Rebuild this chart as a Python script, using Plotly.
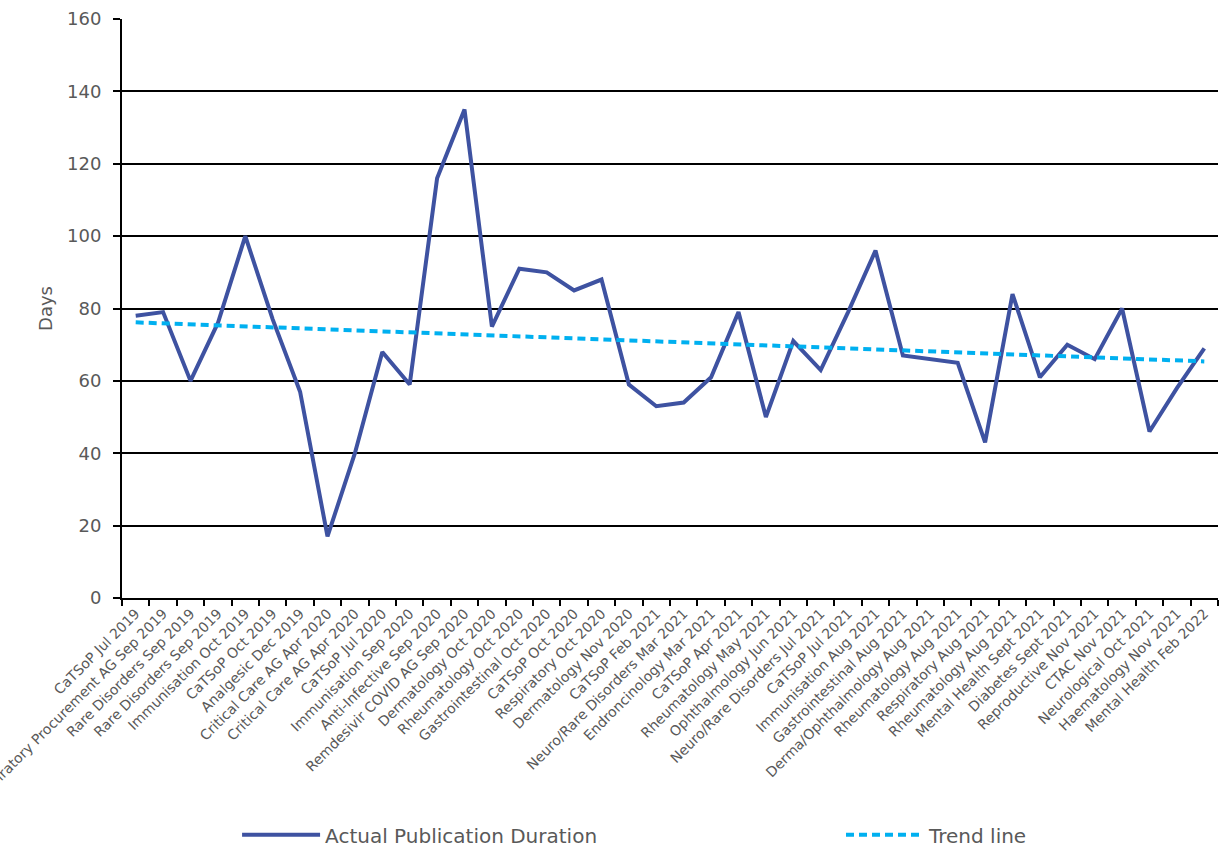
import numpy as np
import plotly.graph_objects as go

# Publication review rounds, in chronological order
reviews = [
    "CaTSoP Jul 2019", "Respiratory Procurement AG Sep 2019", "Rare Disorders Sep 2019",
    "Rare Disorders Sep 2019", "Immunisation Oct 2019", "CaTSoP Oct 2019",
    "Analgesic Dec 2019", "Critical Care AG Apr 2020", "Critical Care AG Apr 2020",
    "CaTSoP Jul 2020", "Immunisation Sep 2020", "Anti-Infective Sep 2020",
    "Remdesivir COVID AG Sep 2020", "Dermatology Oct 2020", "Rheumatology Oct 2020",
    "Gastrointestinal Oct 2020", "CaTSoP Oct 2020", "Respiratory Oct 2020",
    "Dermatology Nov 2020", "CaTSoP Feb 2021", "Neuro/Rare Disorders Mar 2021",
    "Endroncinology Mar 2021", "CaTSoP Apr 2021", "Rheumatology May 2021",
    "Ophthalmology Jun 2021", "Neuro/Rare Disorders Jul 2021", "CaTSoP Jul 2021",
    "Immunisation Aug 2021", "Gastrointestinal Aug 2021", "Derma/Ophthalmology Aug 2021",
    "Rheumatology Aug 2021", "Respiratory Aug 2021", "Rheumatology Aug 2021",
    "Mental Health Sept 2021", "Diabetes Sept 2021", "Reproductive Nov 2021",
    "CTAC Nov 2021", "Neurological Oct 2021", "Haematology Nov 2021",
    "Mental Health Feb 2022",
]

# Days from meeting to publication
durations = [
    78, 79, 60, 76, 100, 77, 57, 17, 40, 68,
    59, 116, 135, 75, 91, 90, 85, 88, 59, 53,
    54, 61, 79, 50, 71, 63, 79, 96, 67, 66,
    65, 43, 84, 61, 70, 66, 80, 46, 58, 69,
]

y_ticks = [0, 20, 40, 60, 80, 100, 120, 140, 160]

pos = np.arange(len(reviews))
slope, intercept = np.polyfit(pos, durations, 1)
trend = intercept + slope * pos

FONT = "DejaVu Sans"
GREY = "#595959"
LEGEND_FONT = dict(family=FONT, size=20, color=GREY)

fig = go.Figure()
fig.add_trace(go.Scatter(
    x=pos, y=durations, mode="lines", name="Actual Publication Duration",
    line=dict(color="#3E52A1", width=4), legend="legend",
))
fig.add_trace(go.Scatter(
    x=pos, y=trend, mode="lines", name="Trend line",
    line=dict(color="#00B0F0", width=4, dash="8px,5px"), legend="legend2",
))

legend_common = dict(
    orientation="h", xanchor="left", yref="container", y=0.018, yanchor="middle",
    itemwidth=78, font=LEGEND_FONT, bgcolor="rgba(0,0,0,0)",
)

fig.update_layout(
    width=1219, height=850,
    margin=dict(l=122, r=1, t=19, b=252),
    plot_bgcolor="white", paper_bgcolor="white",
    font=dict(family=FONT, color=GREY),
    showlegend=True,
    legend=dict(x=0.105, **legend_common),
    legend2=dict(x=0.656, **legend_common),
    xaxis=dict(
        range=[-0.5, len(reviews) - 0.5], automargin=False,
        tickmode="array", tickvals=pos, ticktext=reviews, tickangle=-45,
        ticklabeloverflow="allow",
        ticks="", showgrid=False, zeroline=False,
        showline=True, linecolor="black", linewidth=2,
        tickfont=dict(size=14, color=GREY, family=FONT),
        minor=dict(ticks="outside", ticklen=6, tickwidth=2, tickcolor="black",
                   tick0=-0.5, dtick=1, showgrid=False),
    ),
    yaxis=dict(
        range=[0, 160], tickmode="array", tickvals=y_ticks, automargin=False,
        showgrid=True, gridcolor="black", gridwidth=1.5, zeroline=False,
        showline=True, linecolor="black", linewidth=2,
        ticks="outside", ticklen=7, tickwidth=2, tickcolor="black",
        ticklabelstandoff=8,
        tickfont=dict(size=18, color=GREY, family=FONT),
        title=dict(text="Days", font=dict(size=18, color=GREY, family=FONT), standoff=10),
    ),
)

fig.write_html("out.html")
